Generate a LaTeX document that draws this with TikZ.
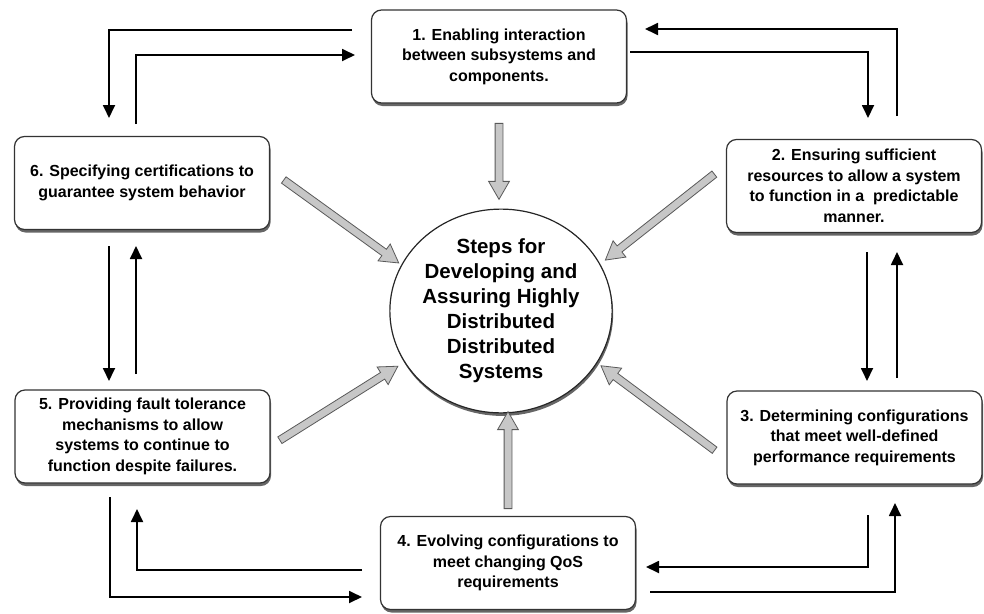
\documentclass[tikz,border=0pt]{standalone}
\usepackage{fontspec}
\setmainfont{Liberation Sans}
\usetikzlibrary{shapes.geometric,shapes.arrows,arrows.meta,shadows}
\begin{document}
\begin{tikzpicture}[x=1pt,y=-1pt,
 box/.style={draw=black!80, line width=1.2pt, rounded corners=10pt, fill=white,
   minimum width=255pt, minimum height=93pt, align=center, inner sep=0pt,
   font=\fontsize{16}{20.5}\selectfont\bfseries,
   drop shadow={shadow xshift=1pt, shadow yshift=-3pt, opacity=0.6, fill=black}},
 hub/.style={ellipse, draw=black!85, line width=1.2pt, fill=white, inner sep=0pt,
   minimum width=222pt, minimum height=196pt, align=center,
   font=\fontsize{20.5}{25}\selectfont\bfseries,
   drop shadow={shadow xshift=1pt, shadow yshift=-3pt, opacity=0.6, fill=black}},
 flow/.style={line width=1.8pt, -{Triangle[length=13pt,width=12pt]}},
 fat/.style={single arrow, draw=black!65, fill=black!22, line width=0.8pt,
   single arrow head extend=6.5pt, single arrow tip angle=60,
   inner xsep=0pt, inner ysep=3.5pt, sloped, allow upside down, anchor=center}]
\useasboundingbox (0,0) rectangle (984,613);

% central ellipse
\node[hub] (c) at (501,311) {Steps for\\Developing and\\Assuring Highly\\Distributed\\Distributed\\Systems};

% boxes
\node[box] (b1) at (499,56.5) {1. Enabling interaction\\between subsystems and\\components.};
\node[box] (b2) at (854,186) {2. Ensuring sufficient\\resources to allow a system\\to function in a \ predictable\\manner.};
\node[box] (b3) at (854.5,437.5) {3. Determining configurations\\that meet well-defined\\performance requirements};
\node[box] (b4) at (508,563) {4. Evolving configurations to\\meet changing QoS\\requirements};
\node[box] (b5) at (142.5,436.5) {5. Providing fault tolerance\\mechanisms to allow\\systems to continue to\\function despite failures.};
\node[box] (b6) at (142,183) {6. Specifying certifications to\\guarantee system behavior};

% gray arrows towards the hub
\coordinate (s1) at (499,120); \coordinate (e1) at (499,196);
\coordinate (s2) at (717,172); \coordinate (e2) at (608,258);
\coordinate (s3) at (717,452); \coordinate (e3) at (604,368);
\coordinate (s4) at (508,512); \coordinate (e4) at (508,415);
\coordinate (s5) at (277,442); \coordinate (e5) at (395,368);
\coordinate (s6) at (281,178); \coordinate (e6) at (396,261);
\path (s1) -- (e1) node[midway,fat,minimum height=76pt] (g1) {};
\path (s2) -- (e2) node[midway,fat,minimum height=138.8pt] (g2) {};
\path (s3) -- (e3) node[midway,fat,minimum height=141.6pt] (g3) {};
\path (s4) -- (e4) node[midway,fat,minimum height=97pt] (g4) {};
\path (s5) -- (e5) node[midway,fat,minimum height=139.3pt] (g5) {};
\path (s6) -- (e6) node[midway,fat,minimum height=141.8pt] (g6) {};

% black flow arrows
% 1 <-> 6
\coordinate (t1a) at (352,30); \coordinate (t1b) at (109,30); \coordinate (t1c) at (109,118);
\coordinate (t2a) at (136,124); \coordinate (t2b) at (136,55); \coordinate (t2c) at (355,55);
\draw[flow] (t1a) -- (t1b) -- (t1c);
\draw[flow] (t2a) -- (t2b) -- (t2c);
% 1 <-> 2
\coordinate (t3a) at (897,116); \coordinate (t3b) at (897,29); \coordinate (t3c) at (645,29);
\coordinate (t4a) at (630,52); \coordinate (t4b) at (868,52); \coordinate (t4c) at (868,118);
\draw[flow] (t3a) -- (t3b) -- (t3c);
\draw[flow] (t4a) -- (t4b) -- (t4c);
% 2 <-> 3
\coordinate (r1a) at (867,252); \coordinate (r1b) at (867,381);
\coordinate (r2a) at (897,378); \coordinate (r2b) at (897,252);
\draw[flow] (r1a) -- (r1b);
\draw[flow] (r2a) -- (r2b);
% 6 <-> 5
\coordinate (l1a) at (109,246); \coordinate (l1b) at (109,381);
\coordinate (l2a) at (136,374); \coordinate (l2b) at (136,246);
\draw[flow] (l1a) -- (l1b);
\draw[flow] (l2a) -- (l2b);
% 5 <-> 4
\coordinate (q1a) at (110,497); \coordinate (q1b) at (110,597); \coordinate (q1c) at (362,597);
\coordinate (q2a) at (362,570); \coordinate (q2b) at (137,570); \coordinate (q2c) at (137,509);
\draw[flow] (q1a) -- (q1b) -- (q1c);
\draw[flow] (q2a) -- (q2b) -- (q2c);
% 3 <-> 4
\coordinate (p1a) at (868,515); \coordinate (p1b) at (868,567); \coordinate (p1c) at (646,567);
\coordinate (p2a) at (650,592); \coordinate (p2b) at (895,592); \coordinate (p2c) at (895,503);
\draw[flow] (p1a) -- (p1b) -- (p1c);
\draw[flow] (p2a) -- (p2b) -- (p2c);
\end{tikzpicture}
\end{document}
